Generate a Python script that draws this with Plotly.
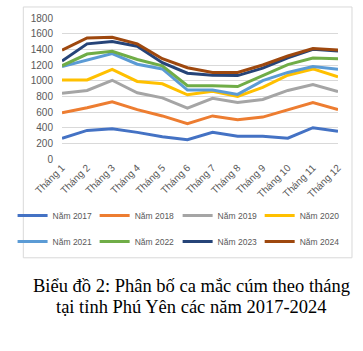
import plotly.graph_objects as go

months = ["Tháng 1", "Tháng 2", "Tháng 3", "Tháng 4", "Tháng 5", "Tháng 6",
          "Tháng 7", "Tháng 8", "Tháng 9", "Tháng 10", "Tháng 11", "Tháng 12"]

y2017 = [265, 365, 385, 340, 285, 245, 340, 290, 290, 265, 400, 355]
y2018 = [590, 655, 730, 630, 550, 450, 550, 500, 535, 630, 720, 630]
y2019 = [840, 875, 1005, 845, 780, 650, 775, 720, 760, 875, 950, 860]
y2020 = [1010, 1010, 1145, 990, 960, 820, 865, 800, 915, 1070, 1150, 1050]
y2021 = [1180, 1260, 1345, 1210, 1150, 880, 880, 825, 1000, 1105, 1180, 1145]
y2022 = [1190, 1340, 1375, 1270, 1190, 935, 935, 925, 1065, 1205, 1290, 1280]
y2023 = [1250, 1470, 1500, 1440, 1230, 1095, 1070, 1065, 1160, 1290, 1400, 1380]
y2024 = [1390, 1545, 1555, 1470, 1280, 1165, 1105, 1105, 1200, 1315, 1410, 1390]

names = ["Năm 2017", "Năm 2018", "Năm 2019", "Năm 2020",
         "Năm 2021", "Năm 2022", "Năm 2023", "Năm 2024"]
values = [y2017, y2018, y2019, y2020, y2021, y2022, y2023, y2024]
colors = ["#4472C4", "#ED7D31", "#A5A5A5", "#FFC000",
          "#5B9BD5", "#70AD47", "#264478", "#9E480E"]

W, H = 363, 351
L, R, T, B = 42, 25, 12, 192
pw, ph = W - L - R, H - T - B


def px(x):
    return (x - L) / pw


def py(y):
    return (H - B - y) / ph


legend_x = [-11, 77, 166, 254]
legend_y = [218, 245]

fig = go.Figure()
layout_legends = {}
for i, (name, vals, color) in enumerate(zip(names, values, colors)):
    key = "legend" if i == 0 else f"legend{i + 1}"
    fig.add_trace(go.Scatter(x=months, y=vals, name=name, mode="lines",
                             line=dict(color=color, width=3), legend=key,
                             showlegend=True))
    layout_legends[key] = dict(
        x=px(legend_x[i % 4]), y=py(legend_y[i // 4]), xanchor="left", yanchor="middle",
        font=dict(size=8.5, color="#595959"), bgcolor="rgba(0,0,0,0)",
        itemclick=False, itemdoubleclick=False)

font_family = "Liberation Sans, Arial, sans-serif"
fig.update_layout(
    width=W, height=H,
    showlegend=True,
    margin=dict(l=L, r=R, t=T, b=B),
    paper_bgcolor="white", plot_bgcolor="white",
    font=dict(family=font_family, color="#595959"),
    xaxis=dict(tickangle=-45, tickfont=dict(size=10, color="#595959"),
               showgrid=False, showline=False, ticks="", zeroline=False),
    yaxis=dict(range=[0, 1800], dtick=200, tickfont=dict(size=10, color="#595959"),
               gridcolor="#D9D9D9", gridwidth=1, zeroline=False, showline=False,
               ticklabelstandoff=8),
    shapes=[dict(type="rect", xref="paper", yref="paper",
                 x0=px(0.5), x1=px(353), y0=py(262), y1=py(0.5),
                 line=dict(color="#D9D9D9", width=1), fillcolor="rgba(0,0,0,0)", layer="below")],
    annotations=[
        dict(text="Biểu đồ 2: Phân bố ca mắc cúm theo tháng", xref="paper", yref="paper",
             x=px(181), y=py(291), xanchor="center", yanchor="middle", showarrow=False,
             font=dict(family="Liberation Serif, Times New Roman, serif", size=18.5, color="black")),
        dict(text="tại tỉnh Phú Yên các năm 2017-2024", xref="paper", yref="paper",
             x=px(181), y=py(313), xanchor="center", yanchor="middle", showarrow=False,
             font=dict(family="Liberation Serif, Times New Roman, serif", size=18.5, color="black")),
    ],
    **layout_legends,
)

fig.write_html("out.html")
